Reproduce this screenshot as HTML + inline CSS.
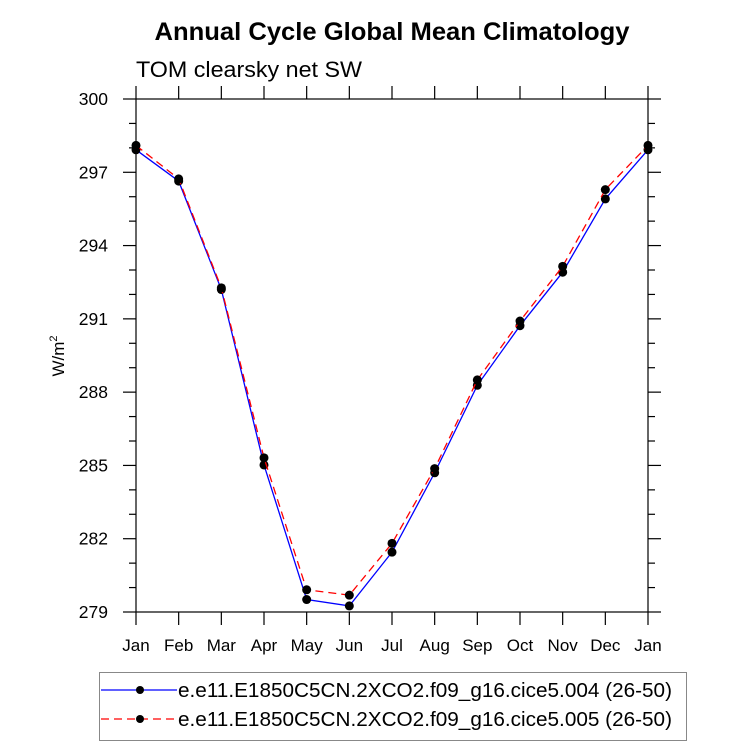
<!DOCTYPE html>
<html><head><meta charset="utf-8"><style>
body{margin:0;background:#fff;font-family:"Liberation Sans",sans-serif;}
svg text{font-family:"Liberation Sans",sans-serif;}
</style></head><body>
<svg id="chart" width="733" height="746" xmlns="http://www.w3.org/2000/svg">
<text x="392" y="40" text-anchor="middle" font-size="25" font-weight="bold" textLength="475" lengthAdjust="spacingAndGlyphs">Annual Cycle Global Mean Climatology</text>
<text x="136" y="77" font-size="22" textLength="226" lengthAdjust="spacingAndGlyphs">TOM clearsky net SW</text>
<text transform="translate(64,356) rotate(-90)" text-anchor="middle" font-size="17">W/m<tspan dy="-7" font-size="11">2</tspan></text>
<g id="axes"></g>
<g id="series"></g>
<g id="legend">
<rect x="99.5" y="672.5" width="587" height="68" fill="#fff" stroke="#888"/>
<g>
<line x1="101" y1="690" x2="177" y2="690" stroke="#0000ff" stroke-width="1.2"/>
<circle cx="140" cy="690" r="4" fill="#000"/>
<text x="178" y="697" font-size="20.5" textLength="494" lengthAdjust="spacingAndGlyphs">e.e11.E1850C5CN.2XCO2.f09_g16.cice5.004 (26-50)</text>
</g>
<g>
<line x1="101" y1="719" x2="177" y2="719" stroke="#ff0000" stroke-width="1.2" stroke-dasharray="8,5"/>
<circle cx="140" cy="719" r="4" fill="#000"/>
<text x="178" y="726" font-size="20.5" textLength="494" lengthAdjust="spacingAndGlyphs">e.e11.E1850C5CN.2XCO2.f09_g16.cice5.005 (26-50)</text>
</g>
</g>
</svg>
<script>
const months = ["Jan","Feb","Mar","Apr","May","Jun","Jul","Aug","Sep","Oct","Nov","Dec","Jan"];
const series004 = [297.92,296.64,292.20,285.02,279.51,279.25,281.45,284.70,288.28,290.72,292.91,295.91,297.92];
const series005 = [298.10,296.73,292.27,285.31,279.91,279.69,281.81,284.87,288.50,290.91,293.15,296.29,298.10];
const yTicks = [279,282,285,288,291,294,297,300];
const yMin = 279, yMax = 300;

const NS = "http://www.w3.org/2000/svg";
const L = 136, R = 648, T = 99, B = 612;
const xS = i => L + i * (R - L) / (months.length - 1);
const yS = v => B - (v - yMin) / (yMax - yMin) * (B - T);
function mk(tag, attrs, parent){const e=document.createElementNS(NS,tag);for(const k in attrs)e.setAttribute(k,attrs[k]);parent.appendChild(e);return e;}

const axes = document.getElementById('axes');
const frame = mk('rect',{x:L,y:T,width:R-L,height:B-T,fill:'none',stroke:'#000','stroke-width':1.2},axes);


months.forEach((m,i)=>{
  const x = xS(i);
  mk('line',{x1:x,y1:B,x2:x,y2:B+13,stroke:'#000','stroke-width':1.2},axes);
  mk('line',{x1:x,y1:T,x2:x,y2:T-13,stroke:'#000','stroke-width':1.2},axes);
  const t = mk('text',{x:x,y:B+39,'text-anchor':'middle','font-size':17},axes);
  t.textContent = m;
  
  
});
for(let v=yMin; v<=yMax; v++){
  const y = yS(v);
  const major = yTicks.includes(v);
  const len = major ? 13 : 7;
  mk('line',{x1:L-len,y1:y,x2:L,y2:y,stroke:'#000','stroke-width':1.2},axes);
  mk('line',{x1:R,y1:y,x2:R+len,y2:y,stroke:'#000','stroke-width':1.2},axes);
}
yTicks.forEach(v=>{
  const t = mk('text',{x:108,y:yS(v)+6,'text-anchor':'end','font-size':17.5},axes);
  t.textContent = v;
  
  
});

const sg = document.getElementById('series');
function draw(vals,color,dash,name){
  const g = mk('g',{},sg);
  
  
  const pts = vals.map((v,i)=>xS(i)+','+yS(v)).join(' ');
  const attrs = {points:pts,fill:'none',stroke:color,'stroke-width':1.3};
  if(dash) attrs['stroke-dasharray']=dash;
  mk('polyline',attrs,g);
  vals.forEach((v,i)=>{
    const c = mk('circle',{cx:xS(i),cy:yS(v),r:4.5,fill:'#000'},g);
    
    
  });
}
draw(series004,'#0000ff',null,'series-004');
draw(series005,'#ff0000','8,5','series-005');
</script>
</body></html>
